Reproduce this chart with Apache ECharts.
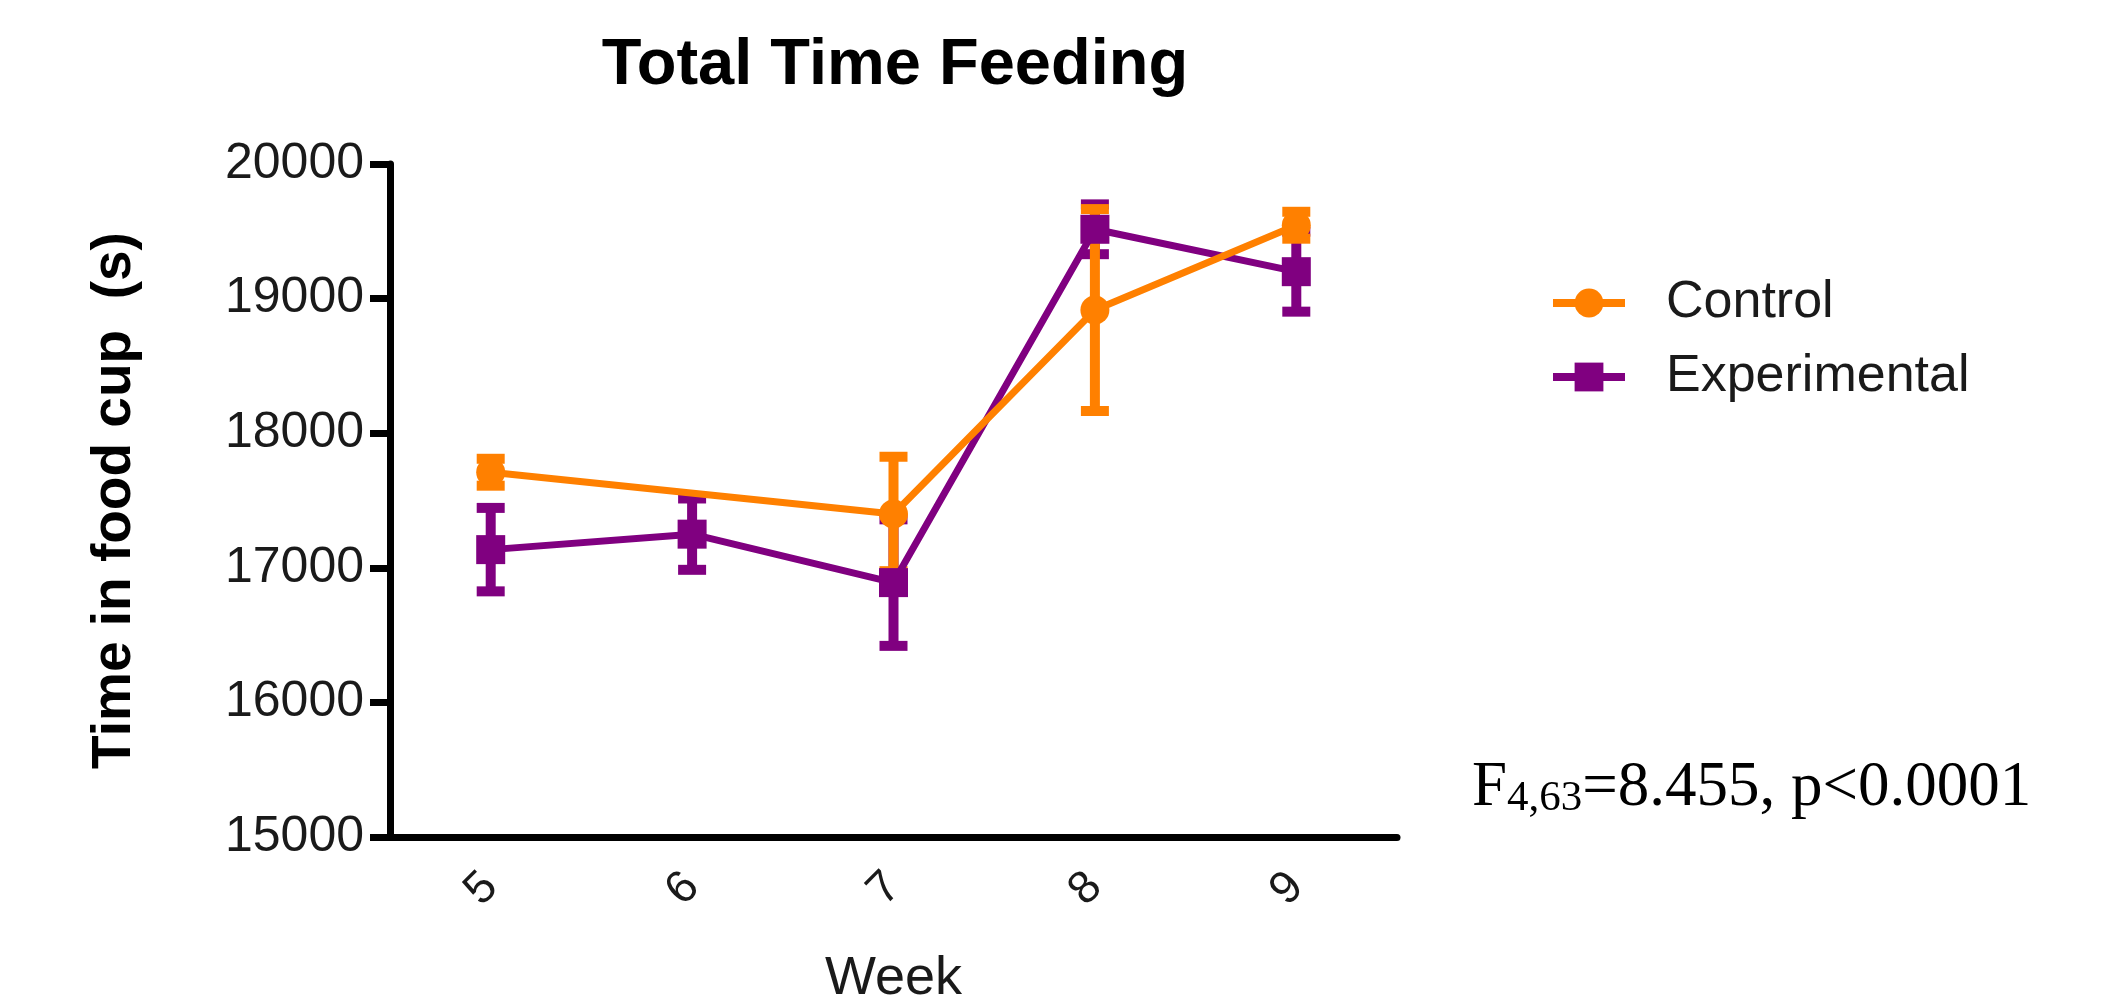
<!DOCTYPE html>
<html>
<head>
<meta charset="utf-8">
<title>Total Time Feeding</title>
<script src="https://cdn.jsdelivr.net/npm/echarts@6/dist/echarts.min.js"></script>
<style>
  html, body { margin: 0; padding: 0; background: #fff; }
  #chart { width: 2110px; height: 995px; }
</style>
</head>
<body>
<div id="chart"></div>
<script>
// data (mean +/- SEM)
var weeks = ['5', '6', '7', '8', '9'];
var controlMean = [17710, null, 17400, 18915, 19545];
var controlErr = [100, null, 425, 750, 100];
var expMean = [17135, 17250, 16890, 19515, 19200];
var expErr = [310, 265, 470, 185, 297];
var yMin = 15000, yMax = 20000, yStep = 1000;

var ORANGE = '#ff8000';
var PURPLE = '#800080';

function errData(mean, err) {
    var out = [];
    for (var i = 0; i < mean.length; i++) {
        if (mean[i] == null) continue;
        out.push([i, mean[i] - err[i], mean[i] + err[i]]);
    }
    return out;
}

function errRenderer(color) {
    return function (params, api) {
        var hi = api.coord([api.value(0), api.value(2)]);
        var lo = api.coord([api.value(0), api.value(1)]);
        var hw = 14;
        function seg(x1, y1, x2, y2) {
            return { type: 'line', shape: { x1: x1, y1: y1, x2: x2, y2: y2 },
                     style: { stroke: color, lineWidth: 10 } };
        }
        return {
            type: 'group',
            children: [
                seg(hi[0], hi[1], lo[0], lo[1]),
                seg(hi[0] - hw, hi[1], hi[0] + hw, hi[1]),
                seg(lo[0] - hw, lo[1], lo[0] + hw, lo[1])
            ]
        };
    };
}

var myChart = echarts.init(document.getElementById('chart'));
var option = {
    backgroundColor: '#fff',
    animation: false,
    textStyle: { fontFamily: '"Liberation Sans", Arial, sans-serif' },
    grid: { left: 390, right: 713, top: 164, bottom: 158, containLabel: false, outerBoundsMode: 'none' },
    legend: {
        data: ['Control', 'Experimental'],
        orient: 'vertical',
        left: 1549,
        top: 277,
        padding: 0,
        itemWidth: 72,
        itemHeight: 36,
        itemGap: 22,
        lineStyle: { width: 8 },
        textStyle: { fontSize: 52, lineHeight: 52, color: '#1a1a1a', padding: [0, 0, 0, 36] }
    },
    xAxis: {
        type: 'category',
        data: weeks,
        boundaryGap: true,
        name: 'Week',
        nameLocation: 'middle',
        nameGap: 115,
        nameTextStyle: { fontSize: 54, color: '#1a1a1a' },
        axisLine: { lineStyle: { color: '#000', width: 7 } },
        axisTick: { alignWithLabel: true, length: 18, lineStyle: { color: '#000', width: 7 } },
        axisLabel: { fontSize: 46, rotate: 45, margin: 43, color: '#1a1a1a' }
    },
    yAxis: {
        type: 'value',
        min: yMin,
        max: yMax,
        interval: yStep,
        name: 'Time in food cup  (s)',
        nameLocation: 'middle',
        nameGap: 248,
        nameTextStyle: { fontSize: 55, fontWeight: 'bold', color: '#000' },
        axisLine: { show: true, lineStyle: { color: '#000', width: 7 } },
        axisTick: { show: true, length: 20, lineStyle: { color: '#000', width: 7 } },
        axisLabel: { fontSize: 50, margin: 26, color: '#1a1a1a', formatter: function (v) { return String(v); } },
        splitLine: { show: false }
    },
    series: [
        {
            name: 'Experimental',
            type: 'line',
            data: expMean,
            symbol: 'rect',
            symbolSize: 29,
            color: PURPLE,
            lineStyle: { color: PURPLE, width: 7 },
            itemStyle: { color: PURPLE }
        },
        {
            name: 'Experimental SEM',
            type: 'custom',
            data: errData(expMean, expErr),
            encode: { x: 0, y: [1, 2] },
            renderItem: errRenderer(PURPLE)
        },
        {
            name: 'Control',
            type: 'line',
            data: controlMean,
            connectNulls: true,
            symbol: 'circle',
            symbolSize: 29,
            color: ORANGE,
            lineStyle: { color: ORANGE, width: 7 },
            itemStyle: { color: ORANGE }
        },
        {
            name: 'Control SEM',
            type: 'custom',
            data: errData(controlMean, controlErr),
            encode: { x: 0, y: [1, 2] },
            renderItem: errRenderer(ORANGE)
        }
    ],
    graphic: [
        {
            type: 'text',
            x: 895,
            y: 66,
            style: {
                text: 'Total Time Feeding',
                fontSize: 65,
                fontWeight: 'bold',
                fontFamily: '"Liberation Sans", Arial, sans-serif',
                fill: '#000',
                align: 'center',
                verticalAlign: 'middle'
            }
        },
        {
            type: 'text',
            x: 1472,
            y: 750,
            style: {
                text: '{a|F}{b|4,63}{a|=8.455, p<0.0001}',
                align: 'left',
                verticalAlign: 'top',
                fill: '#000',
                rich: {
                    a: { fontSize: 63, fontFamily: '"Liberation Serif", "Times New Roman", serif', lineHeight: 70, verticalAlign: 'bottom', fill: '#000' },
                    b: { fontSize: 43, fontFamily: '"Liberation Serif", "Times New Roman", serif', lineHeight: 32, verticalAlign: 'bottom', fill: '#000' }
                }
            }
        }
    ]
};
myChart.setOption(option);
</script>
</body>
</html>
